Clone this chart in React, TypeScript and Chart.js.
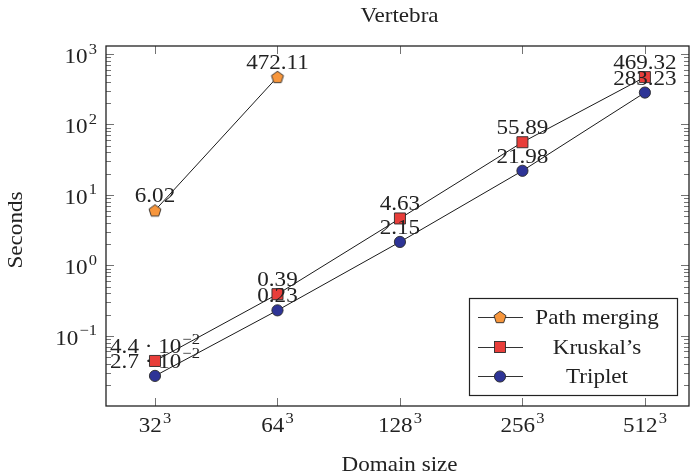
import React, { useEffect, useRef } from 'react';
import { Chart, registerables } from 'chart.js';

Chart.register(...registerables);

const categories = ['32', '64', '128', '256', '512'];
const categoryExponent = '3';
const seriesNames = ['Path merging', 'Kruskal\u2019s', 'Triplet'];
const pathMerging = [6.02, 472.11];
const kruskal = [0.044, 0.39, 4.63, 55.89, 469.32];
const triplet = [0.027, 0.23, 2.15, 21.98, 283.23];
const pathMergingLabels = ['6.02', '472.11'];
const kruskalLabels = ['4.4 \u00b7 10^\u22122', '0.39', '4.63', '55.89', '469.32'];
const tripletLabels = ['2.7 \u00b7 10^\u22122', '0.23', '2.15', '21.98', '283.23'];
const yTickExponents = [-1, 0, 1, 2, 3];

const FONT = '"Liberation Serif", "Times New Roman", serif';
const FS = 21;
const STRETCH = 1.1;
const COLORS = ['rgb(247,150,60)', 'rgb(232,62,58)', 'rgb(46,52,150)'];
const EDGE = '#2a2a2a';

function makePentagon(): HTMLCanvasElement {
  const c = document.createElement('canvas');
  c.width = 16;
  c.height = 16;
  const g = c.getContext('2d')!;
  const r = 6.3;
  g.beginPath();
  for (let i = 0; i < 5; i++) {
    const a = -Math.PI / 2 + (i * 2 * Math.PI) / 5;
    const px = 8 + r * Math.cos(a);
    const py = 8.6 + r * Math.sin(a);
    if (i === 0) g.moveTo(px, py);
    else g.lineTo(px, py);
  }
  g.closePath();
  g.fillStyle = COLORS[0];
  g.fill();
  g.lineWidth = 0.9;
  g.strokeStyle = EDGE;
  g.stroke();
  return c;
}

function drawRich(
  ctx: CanvasRenderingContext2D,
  text: string,
  x: number,
  y: number,
  align: 'left' | 'center' | 'right',
  size: number
) {
  const parts = text.split('^');
  const base = parts[0];
  const sup = parts[1] || '';
  const supSize = Math.round(size * 0.72);
  ctx.font = `${size}px ${FONT}`;
  const wb = ctx.measureText(base).width;
  ctx.font = `${supSize}px ${FONT}`;
  const ws = sup ? ctx.measureText(sup).width + 1 : 0;
  const total = (wb + ws) * STRETCH;
  let sx = x;
  if (align === 'center') sx = x - total / 2;
  else if (align === 'right') sx = x - total;
  ctx.save();
  ctx.translate(sx, y);
  ctx.scale(STRETCH, 1);
  ctx.textAlign = 'left';
  ctx.textBaseline = 'alphabetic';
  ctx.font = `${size}px ${FONT}`;
  ctx.fillText(base, 0, 0);
  if (sup) {
    ctx.font = `${supSize}px ${FONT}`;
    ctx.fillText(sup, wb + 1, -size * 0.45);
  }
  ctx.restore();
}

function drawCentered(ctx: CanvasRenderingContext2D, text: string, x: number, y: number) {
  ctx.save();
  ctx.translate(x, y);
  ctx.scale(STRETCH, 1);
  ctx.font = `${FS}px ${FONT}`;
  ctx.textAlign = 'center';
  ctx.textBaseline = 'alphabetic';
  ctx.fillText(text, 0, 0);
  ctx.restore();
}

export default function App() {
  const ref = useRef<HTMLCanvasElement | null>(null);

  useEffect(() => {
    document.body.style.margin = '0';
    const canvas = ref.current!;
    const pent = makePentagon();
    const allLabels = [pathMergingLabels, kruskalLabels, tripletLabels];

    const decoPlugin = {
      id: 'deco',
      beforeDatasetsDraw(chart: any) {
        const ctx = chart.ctx as CanvasRenderingContext2D;
        const a = chart.chartArea;
        const xs = chart.scales.x;
        const ys = chart.scales.y;
        ctx.save();
        ctx.strokeStyle = 'rgba(0,0,0,0.55)';
        ctx.lineWidth = 1;
        const yMin = ys.min;
        const yMax = ys.max;
        for (let d = -3; d <= 4; d++) {
          for (let m = 1; m <= 9; m++) {
            const v = m * Math.pow(10, d);
            if (v < yMin || v > yMax) continue;
            const py = Math.round(ys.getPixelForValue(v)) + 0.5;
            const len = m === 1 ? 8 : 5;
            ctx.beginPath();
            ctx.moveTo(a.left, py);
            ctx.lineTo(a.left + len, py);
            ctx.moveTo(a.right, py);
            ctx.lineTo(a.right - len, py);
            ctx.stroke();
          }
        }
        categories.forEach((_, i) => {
          const px = Math.round(xs.getPixelForValue(i)) + 0.5;
          ctx.beginPath();
          ctx.moveTo(px, a.bottom);
          ctx.lineTo(px, a.bottom - 8);
          ctx.moveTo(px, a.top);
          ctx.lineTo(px, a.top + 8);
          ctx.stroke();
        });
        ctx.restore();
      },
      afterDatasetsDraw(chart: any) {
        const ctx = chart.ctx as CanvasRenderingContext2D;
        const a = chart.chartArea;
        const xs = chart.scales.x;
        const ys = chart.scales.y;
        ctx.save();
        ctx.fillStyle = '#222';
        chart.data.datasets.forEach((ds: any, di: number) => {
          const meta = chart.getDatasetMeta(di);
          meta.data.forEach((pt: any, i: number) => {
            drawRich(ctx, allLabels[di][i], pt.x, pt.y - 8, 'center', FS);
          });
        });
        ctx.strokeStyle = '#222';
        ctx.lineWidth = 1.3;
        ctx.strokeRect(a.left, a.top, a.right - a.left, a.bottom - a.top);
        ctx.fillStyle = '#222';
        yTickExponents.forEach((e) => {
          const py = ys.getPixelForValue(Math.pow(10, e));
          const s = e < 0 ? '\u2212' + Math.abs(e) : String(e);
          drawRich(ctx, '10^' + s, a.left - 9, py + 9, 'right', FS);
        });
        categories.forEach((c, i) => {
          const px = xs.getPixelForValue(i);
          drawRich(ctx, c + '^' + categoryExponent, px, 432, 'center', FS);
        });
        const cx = (a.left + a.right) / 2 + 2;
        drawCentered(ctx, 'Vertebra', cx, 22);
        drawCentered(ctx, 'Domain size', cx, 471);
        ctx.save();
        ctx.translate(22, (a.top + a.bottom) / 2 + 4);
        ctx.rotate(-Math.PI / 2);
        drawCentered(ctx, 'Seconds', 0, 0);
        ctx.restore();
        // legend
        const lx = 469, ly = 298, lw = 208, lh = 97;
        ctx.fillStyle = '#fff';
        ctx.fillRect(lx, ly, lw, lh);
        ctx.strokeStyle = '#222';
        ctx.lineWidth = 1.2;
        ctx.strokeRect(lx + 0.5, ly + 0.5, lw, lh);
        const rows = [317, 347, 376];
        seriesNames.forEach((name, i) => {
          const ry = rows[i];
          ctx.strokeStyle = '#333';
          ctx.lineWidth = 1;
          ctx.beginPath();
          ctx.moveTo(478, ry + 0.5);
          ctx.lineTo(523, ry + 0.5);
          ctx.stroke();
          if (i === 0) {
            ctx.drawImage(pent, 500 - 8, ry - 8);
          } else if (i === 1) {
            ctx.fillStyle = COLORS[1];
            ctx.fillRect(494.5, ry - 5.5, 11, 11);
            ctx.strokeStyle = EDGE;
            ctx.lineWidth = 0.9;
            ctx.strokeRect(494.5, ry - 5.5, 11, 11);
          } else {
            ctx.beginPath();
            ctx.arc(500, ry + 0.5, 5.6, 0, Math.PI * 2);
            ctx.fillStyle = COLORS[2];
            ctx.fill();
            ctx.strokeStyle = EDGE;
            ctx.lineWidth = 0.9;
            ctx.stroke();
          }
          ctx.fillStyle = '#222';
          drawCentered(ctx, name, 597, ry + 7);
        });
        ctx.restore();
      },
    };

    const chart = new Chart(canvas, {
      type: 'line',
      data: {
        datasets: [
          {
            label: seriesNames[0],
            data: pathMerging.map((v, i) => ({ x: i, y: v })),
            borderColor: '#1a1a1a',
            borderWidth: 1,
            pointStyle: pent as any,
            pointRadius: 6,
            pointBackgroundColor: COLORS[0],
            pointBorderColor: EDGE,
            order: 3,
          },
          {
            label: seriesNames[1],
            data: kruskal.map((v, i) => ({ x: i, y: v })),
            borderColor: '#1a1a1a',
            borderWidth: 1,
            pointStyle: 'rect',
            pointRadius: 7.8,
            pointBorderWidth: 0.9,
            pointBackgroundColor: COLORS[1],
            pointBorderColor: EDGE,
            order: 2,
          },
          {
            label: seriesNames[2],
            data: triplet.map((v, i) => ({ x: i, y: v })),
            borderColor: '#1a1a1a',
            borderWidth: 1,
            pointStyle: 'circle',
            pointRadius: 5.6,
            pointBorderWidth: 0.9,
            pointBackgroundColor: COLORS[2],
            pointBorderColor: EDGE,
            order: 1,
          },
        ],
      },
      options: {
        animation: false,
        responsive: false,
        devicePixelRatio: 1,
        layout: { autoPadding: false, padding: { top: 46, right: 1, left: 0, bottom: 0 } },
        plugins: {
          legend: { display: false },
          tooltip: { enabled: false },
          title: { display: false },
        },
        scales: {
          x: {
            type: 'linear',
            min: -0.4,
            max: 4.36,
            grid: { display: false },
            border: { display: false },
            ticks: { display: false },
            afterFit: (s: any) => {
              s.height = 70;
            },
          },
          y: {
            type: 'logarithmic',
            min: 0.0101,
            max: 1297,
            grid: { display: false },
            border: { display: false },
            ticks: { display: false },
            afterFit: (s: any) => {
              s.width = 106;
            },
          },
        },
      },
      plugins: [decoPlugin],
    } as any);

    return () => chart.destroy();
  }, []);

  return (
    <div style={{ width: 690, height: 476, background: '#fff' }}>
      <canvas ref={ref} width={690} height={476} style={{ display: 'block' }} />
    </div>
  );
}
